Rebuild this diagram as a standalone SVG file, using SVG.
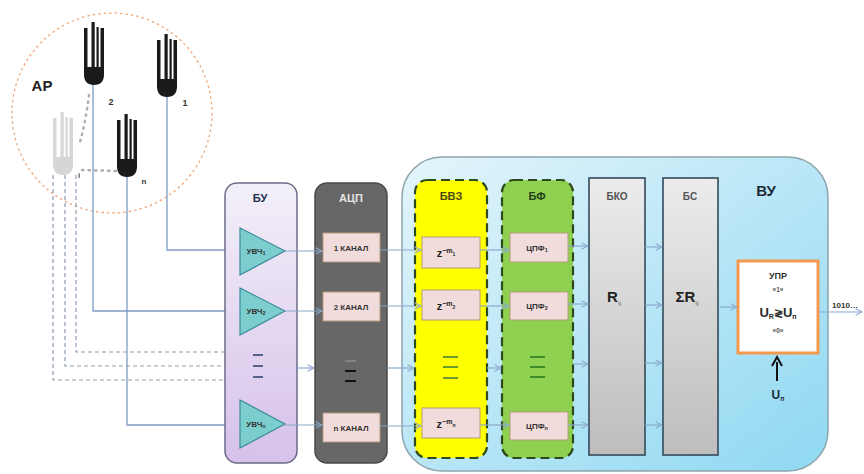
<svg xmlns="http://www.w3.org/2000/svg" width="864" height="474" viewBox="0 0 864 474">
  <style>
    text { font-family: "Liberation Sans", Arial, sans-serif; font-weight: bold; text-anchor: middle; }
    .wire { fill: none; stroke: #7f9cc4; stroke-width: 1.3; }
    .dash { fill: none; stroke: #8d9db5; stroke-width: 1.2; stroke-dasharray: 4 3; }
    .flow { fill: none; stroke: #8aa9cc; stroke-width: 1.2; marker-end: url(#open); }
    .cell { fill: #f2dcdb; stroke: #b59a7a; stroke-width: 1; }
    .amp { fill: #7ccdcd; stroke: #3d8c9c; stroke-width: 1.2; }
    .hdr { font-size: 11px; }
    .small { font-size: 8px; fill: #333; }
    .tall { fill: url(#gray); stroke: #34495a; stroke-width: 1.6; }
  </style>
  <defs>
    <linearGradient id="lav" x1="0" y1="0" x2="0" y2="1">
      <stop offset="0" stop-color="#f3f0f9"/>
      <stop offset="1" stop-color="#d6c1ea"/>
    </linearGradient>
    <linearGradient id="sky" x1="0" y1="0" x2="1" y2="1">
      <stop offset="0" stop-color="#e4f5fb"/>
      <stop offset="1" stop-color="#8fd8f2"/>
    </linearGradient>
    <linearGradient id="gray" x1="0" y1="0" x2="0" y2="1">
      <stop offset="0" stop-color="#ececec"/>
      <stop offset="1" stop-color="#bdbdbd"/>
    </linearGradient>
    <marker id="open" viewBox="0 0 10 10" refX="9" refY="5" markerWidth="8" markerHeight="8" orient="auto" markerUnits="userSpaceOnUse">
      <path d="M1,1 L9,5 L1,9" fill="none" stroke="#8aa9cc" stroke-width="1.3"/>
    </marker>
    <!-- antenna: four prongs (centre one tallest) on a rounded base -->
    <g id="ant">
      <rect x="0" y="6" width="3.5" height="48"/>
      <rect x="7.5" y="0" width="3.2" height="54"/>
      <rect x="12.5" y="5" width="2.2" height="49"/>
      <rect x="16.5" y="6" width="3.5" height="48"/>
      <path d="M0,45 H20 V52 Q20,63 10,63 Q0,63 0,52 Z"/>
    </g>
  </defs>

  <!-- antenna array -->
  <g id="ar">
    <circle cx="112" cy="113" r="100" fill="none" stroke="#f0a878" stroke-width="1.3" stroke-dasharray="2.5 3"/>
    <text x="42" y="91" font-size="15" fill="#222">АР</text>
    <use href="#ant" x="84" y="22" fill="#1a1a1a"/>
    <use href="#ant" x="157" y="34" fill="#1a1a1a"/>
    <use href="#ant" x="117" y="114" fill="#1a1a1a"/>
    <use href="#ant" x="53" y="112" fill="#d6d6d6"/>
    <text x="111" y="105" font-size="9" fill="#333">2</text>
    <text x="185" y="106" font-size="9" fill="#333">1</text>
    <text x="144" y="184" font-size="8" fill="#333">n</text>
    <text x="79" y="178" font-size="8" fill="#555">i</text>
    <path d="M89,95 Q86,120 80,142" fill="none" stroke="#b0b0b0" stroke-width="2.5" stroke-dasharray="1.5 5" stroke-linecap="round"/>
    <path d="M82,170 L116,171" fill="none" stroke="#b0b0b0" stroke-width="2.5" stroke-dasharray="1.5 5" stroke-linecap="round"/>
  </g>

  <!-- feed lines from antennas -->
  <g id="feeds">
    <path class="wire" d="M167,97 V250 H241"/>
    <path class="wire" d="M93,85 V311 H241"/>
    <path class="wire" d="M127,177 V425 H241"/>
    <path class="dash" d="M76,175 V352 H225"/>
    <path class="dash" d="M65,175 V366 H225"/>
    <path class="dash" d="M53,175 V380 H225"/>
  </g>

  <!-- computing unit -->
  <g id="vu">
    <rect x="402" y="157" width="426" height="314" rx="40" fill="url(#sky)" stroke="#8ea4ad" stroke-width="1.5"/>
    <text x="766" y="196" font-size="15" fill="#1e2a3a">ВУ</text>
  </g>

  <!-- amplifier block -->
  <g id="bu">
    <rect x="225" y="183" width="72" height="280" rx="12" fill="url(#lav)" stroke="#6b6b88" stroke-width="1.5"/>
    <text class="hdr" x="260" y="202" fill="#1f2d4d">БУ</text>
    <polygon class="amp" points="240,228 240,275 285,251"/>
    <polygon class="amp" points="240,288 240,335 285,311"/>
    <polygon class="amp" points="240,400 240,448 285,424"/>
    <text class="small" x="256" y="254">УВЧ<tspan font-size="5.5" dy="1">1</tspan></text>
    <text class="small" x="256" y="314">УВЧ<tspan font-size="5.5" dy="1">2</tspan></text>
    <text class="small" x="256" y="427">УВЧ<tspan font-size="5.5" dy="1">n</tspan></text>
    <path d="M253,355 H263 M253,366 H263 M253,377 H263" stroke="#2b3d6b" stroke-width="1.6"/>
  </g>

  <!-- ADC block -->
  <g id="acp">
    <rect x="315" y="183" width="72" height="280" rx="12" fill="#676767" stroke="#4a4a4a" stroke-width="1.5"/>
    <text class="hdr" x="351" y="202" fill="#e4e4e4">АЦП</text>
    <rect class="cell" x="323" y="233" width="57" height="29"/>
    <rect class="cell" x="323" y="292" width="57" height="29"/>
    <rect class="cell" x="323" y="413" width="57" height="29"/>
    <text class="small" x="351" y="251">1 КАНАЛ</text>
    <text class="small" x="351" y="310">2 КАНАЛ</text>
    <text class="small" x="351" y="431">n КАНАЛ</text>
    <path d="M345,361 H356" stroke="#888" stroke-width="1.6"/>
    <path d="M345,371 H356 M345,381 H356" stroke="#111" stroke-width="1.8"/>
  </g>

  <!-- delay block -->
  <g id="bvz">
    <rect x="415" y="180" width="72" height="278" rx="12" fill="#ffff00" stroke="#2e4a1c" stroke-width="2.2" stroke-dasharray="9 5"/>
    <text class="hdr" x="451" y="200" fill="#4b4b14">БВЗ</text>
    <rect class="cell" x="422" y="237" width="58" height="31"/>
    <rect class="cell" x="422" y="290" width="58" height="30"/>
    <rect class="cell" x="422" y="408" width="58" height="30"/>
    <text x="446" y="257" font-size="11" fill="#222">z<tspan font-size="7" dy="-4">−m</tspan><tspan font-size="5" dy="3">1</tspan></text>
    <text x="446" y="310" font-size="11" fill="#222">z<tspan font-size="7" dy="-4">−m</tspan><tspan font-size="5" dy="3">2</tspan></text>
    <text x="446" y="428" font-size="11" fill="#222">z<tspan font-size="7" dy="-4">−m</tspan><tspan font-size="5" dy="3">n</tspan></text>
    <path d="M443,357 H458 M443,367 H458 M443,378 H458" stroke="#6e9a2a" stroke-width="1.8"/>
  </g>

  <!-- filter block -->
  <g id="bf">
    <rect x="502" y="180" width="71" height="278" rx="12" fill="#8ed04f" stroke="#2e4a1c" stroke-width="2.2" stroke-dasharray="9 5"/>
    <text class="hdr" x="537" y="200" fill="#23401a">БФ</text>
    <rect class="cell" x="510" y="233" width="58" height="29"/>
    <rect class="cell" x="510" y="292" width="58" height="28"/>
    <rect class="cell" x="510" y="412" width="58" height="28"/>
    <text class="small" x="537" y="251">ЦПФ<tspan font-size="5.5" dy="1">1</tspan></text>
    <text class="small" x="537" y="309">ЦПФ<tspan font-size="5.5" dy="1">2</tspan></text>
    <text class="small" x="537" y="429">ЦПФ<tspan font-size="5.5" dy="1">n</tspan></text>
    <path d="M530,357 H545 M530,367 H545 M530,377 H545" stroke="#3f8a2a" stroke-width="1.8"/>
  </g>

  <!-- correlation block -->
  <g id="bko">
    <rect class="tall" x="589" y="178" width="56" height="277"/>
    <text x="617" y="200" font-size="10" fill="#555">БКО</text>
    <text x="614" y="302" font-size="15" fill="#222">R<tspan font-size="6" dy="3" fill="#888">ij</tspan></text>
  </g>

  <!-- summing block -->
  <g id="bs">
    <rect class="tall" x="663" y="178" width="55" height="277"/>
    <text x="690" y="200" font-size="10" fill="#555">БС</text>
    <text x="687" y="302" font-size="15" fill="#222">ΣR<tspan font-size="6" dy="3" fill="#888">ij</tspan></text>
  </g>

  <!-- threshold decision unit -->
  <g id="upr">
    <rect x="738" y="261" width="80" height="92" fill="#ffffff" stroke="#f39a4e" stroke-width="3"/>
    <text x="778" y="279" font-size="9" fill="#333">УПР</text>
    <text x="778" y="292" font-size="6.5" fill="#555">«1»</text>
    <text x="778" y="317" font-size="13" fill="#2a2a2a">U<tspan font-size="7" dy="2">R</tspan><tspan font-size="11" dy="-2">≷</tspan>U<tspan font-size="7" dy="2">п</tspan></text>
    <text x="778" y="333" font-size="6.5" fill="#555">«0»</text>
    <text x="778" y="399" font-size="12" fill="#1e2a3a">U<tspan font-size="7" dy="2">п</tspan></text>
  </g>

  <!-- signal flow between blocks -->
  <g id="connectors">
    <path class="flow" d="M285,251 H322"/>
    <path class="flow" d="M285,311 H322"/>
    <path class="flow" d="M297,368 H314"/>
    <path class="flow" d="M285,425 H322"/>

    <path class="flow" d="M380,250 H421"/>
    <path class="flow" d="M380,306 H421"/>
    <path class="flow" d="M387,368 H414"/>
    <path class="flow" d="M380,426 H421"/>

    <path class="flow" d="M480,250 H509"/>
    <path class="flow" d="M480,306 H509"/>
    <path class="flow" d="M487,368 H501"/>
    <path class="flow" d="M480,425 H509"/>

    <path class="flow" d="M568,246 H588"/>
    <path class="flow" d="M568,304 H588"/>
    <path class="flow" d="M573,364 H588"/>
    <path class="flow" d="M568,425 H588"/>

    <path class="flow" d="M645,247 H662"/>
    <path class="flow" d="M645,305 H662"/>
    <path class="flow" d="M645,363 H662"/>
    <path class="flow" d="M645,425 H662"/>

    <path class="flow" d="M718,307 H737"/>
    <path class="flow" d="M818,312 H862"/>
    <text x="845" y="308" font-size="8" fill="#333">1010…</text>

    <path d="M777,381 V362" stroke="#111" stroke-width="2" fill="none"/>
    <path d="M772,366 L777,357 L782,366" stroke="#111" stroke-width="2" fill="none" stroke-linejoin="miter"/>
  </g>
</svg>
